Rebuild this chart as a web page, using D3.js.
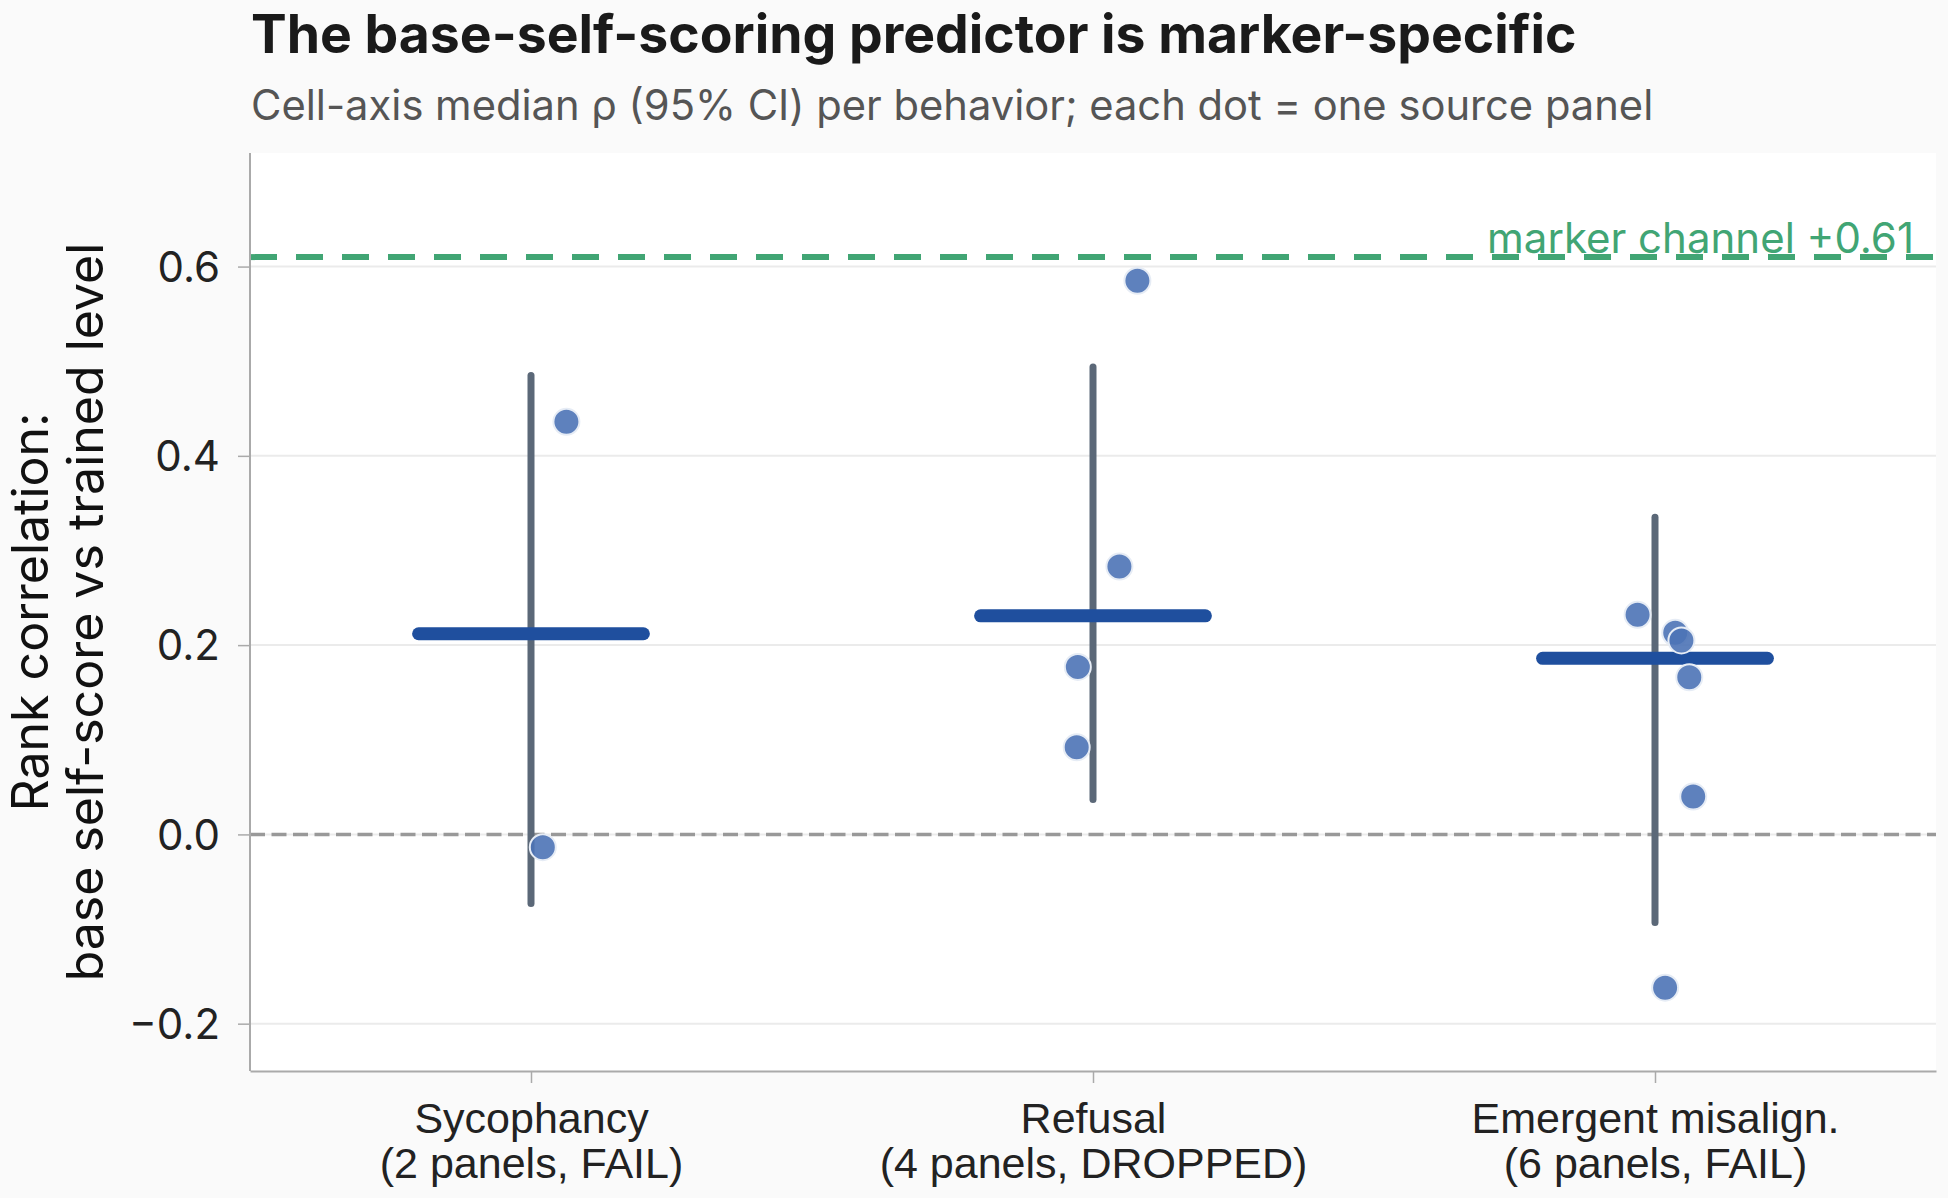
<!DOCTYPE html>
<html>
<head>
<meta charset="utf-8">
<script src="https://cdn.jsdelivr.net/npm/d3@7/dist/d3.min.js"></script>
<style>
  html, body { margin: 0; padding: 0; background: #fafafa; }
  svg { display: block; font-family: Inter, "Noto Sans", sans-serif; }
</style>
</head>
<body>
<svg id="chart" width="1948" height="1198"></svg>
<script>
// ---- data ----
const categories = ["Sycophancy", "Refusal", "Emergent misalign."];
const categoryNotes = ["(2 panels, FAIL)", "(4 panels, DROPPED)", "(6 panels, FAIL)"];
const medians = [0.212, 0.231, 0.186];
const ciLow = [-0.073, 0.037, -0.093];
const ciHigh = [0.485, 0.494, 0.335];
// panel values per behavior and their horizontal jitter (category units)
const panelValues = [
  [0.436, -0.0135],
  [0.585, 0.283, 0.177, 0.092],
  [0.232, 0.213, 0.205, 0.166, 0.040, -0.162]
];
const panelJitter = [
  [0.063, 0.021],
  [0.079, 0.047, -0.027, -0.029],
  [-0.031, 0.036, 0.047, 0.061, 0.068, 0.018]
];
const yTicks = [-0.2, 0.0, 0.2, 0.4, 0.6];
const markerChannel = 0.61;
const titleText = "The base-self-scoring predictor is marker-specific";
const subtitleText = "Cell-axis median ρ (95% CI) per behavior; each dot = one source panel";
const yLabelLines = ["Rank correlation:", "base self-score vs trained level"];

// ---- layout ----
const W = 1948, H = 1198;
const m = { left: 250, right: 12, top: 153, bottom: 127 };
const pw = W - m.left - m.right, ph = H - m.top - m.bottom;

const svg = d3.select("#chart");
svg.append("rect").attr("width", W).attr("height", H).attr("fill", "#fafafa");

const g = svg.append("g").attr("transform", `translate(${m.left},${m.top})`);
g.append("rect").attr("width", pw).attr("height", ph).attr("fill", "#ffffff");

const x = d3.scaleLinear().domain([-0.5, categories.length - 0.5]).range([0, pw]);
const y = d3.scaleLinear().domain([-0.25, 0.72]).range([ph, 0]);

// grid
g.append("g").selectAll("line").data(yTicks).join("line")
  .attr("x1", 0).attr("x2", pw)
  .attr("y1", d => y(d)).attr("y2", d => y(d))
  .attr("stroke", "#ebebeb").attr("stroke-width", 2);

// zero line
g.append("line")
  .attr("x1", 0).attr("x2", pw).attr("y1", y(0)).attr("y2", y(0))
  .attr("stroke", "#999999").attr("stroke-width", 3.5).attr("stroke-dasharray", "15,6.5");

// marker channel line
g.append("line")
  .attr("x1", 0).attr("x2", pw).attr("y1", y(markerChannel)).attr("y2", y(markerChannel))
  .attr("stroke", "#41a574").attr("stroke-width", 6).attr("stroke-dasharray", "27,19");

g.append("text")
  .attr("x", pw - 22).attr("y", y(markerChannel) - 4)
  .attr("text-anchor", "end")
  .attr("fill", "#41a574")
  .attr("font-size", 42)
  .text(`marker channel +${markerChannel.toFixed(2)}`);

// CI whiskers
g.append("g").selectAll("line").data(categories).join("line")
  .attr("x1", (d, i) => x(i)).attr("x2", (d, i) => x(i))
  .attr("y1", (d, i) => y(ciLow[i])).attr("y2", (d, i) => y(ciHigh[i]))
  .attr("stroke", "#5b6878").attr("stroke-width", 7).attr("stroke-linecap", "round");

// medians
g.append("g").selectAll("line").data(categories).join("line")
  .attr("x1", (d, i) => x(i - 0.2)).attr("x2", (d, i) => x(i + 0.2))
  .attr("y1", (d, i) => y(medians[i])).attr("y2", (d, i) => y(medians[i]))
  .attr("stroke", "#1f4f9e").attr("stroke-width", 13).attr("stroke-linecap", "round");

// panel dots
const dots = [];
panelValues.forEach((vals, i) => vals.forEach((v, j) => dots.push({ i, v, jit: panelJitter[i][j] })));
g.append("g").selectAll("circle").data(dots).join("circle")
  .attr("cx", d => x(d.i + d.jit)).attr("cy", d => y(d.v))
  .attr("r", 13)
  .attr("fill", "#4d73b6").attr("fill-opacity", 0.9)
  .attr("stroke", "#e6ecf5").attr("stroke-width", 2);

// axes
const yAxis = d3.axisLeft(y).tickValues(yTicks).tickFormat(d3.format(".1f")).tickSize(12).tickPadding(18);
const ya = g.append("g").call(yAxis);
ya.select(".domain").attr("stroke", "#aaaaaa").attr("stroke-width", 2).attr("d", `M0,0V${ph}`);
ya.selectAll(".tick line").attr("stroke", "#aaaaaa").attr("stroke-width", 1.5);
ya.selectAll(".tick text").attr("fill", "#222222").attr("font-size", 42).attr("font-family", "Inter").attr("dy", "0.35em");

const xAxis = d3.axisBottom(x).tickValues(d3.range(categories.length)).tickFormat(() => "").tickSize(12).tickSizeOuter(0);
const xa = g.append("g").attr("transform", `translate(0,${ph})`).call(xAxis);
xa.select(".domain").attr("stroke", "#aaaaaa").attr("stroke-width", 2);
xa.selectAll(".tick line").attr("stroke", "#aaaaaa").attr("stroke-width", 1.5);
xa.selectAll(".tick").each(function (d) {
  const t = d3.select(this).append("text")
    .attr("text-anchor", "middle").attr("fill", "#222222").attr("font-size", 43);
  t.append("tspan").attr("x", 0).attr("y", 62).text(categories[d]);
  t.append("tspan").attr("x", 0).attr("y", 107).text(categoryNotes[d]);
});

// y label
const yl = svg.append("text")
  .attr("transform", `translate(0,${m.top + ph / 2}) rotate(-90)`)
  .attr("text-anchor", "middle").attr("fill", "#111111").attr("font-size", 50);
yl.append("tspan").attr("x", 0).attr("y", 48).text(yLabelLines[0]);
yl.append("tspan").attr("x", 0).attr("y", 103).text(yLabelLines[1]);

// titles
svg.append("text").attr("x", 251).attr("y", 53)
  .attr("font-size", 53.5).attr("font-weight", 700).attr("fill", "#1a1a1a")
  .text(titleText);
svg.append("text").attr("x", 251).attr("y", 120)
  .attr("font-size", 41.7).attr("fill", "#555555")
  .text(subtitleText);
</script>
</body>
</html>
